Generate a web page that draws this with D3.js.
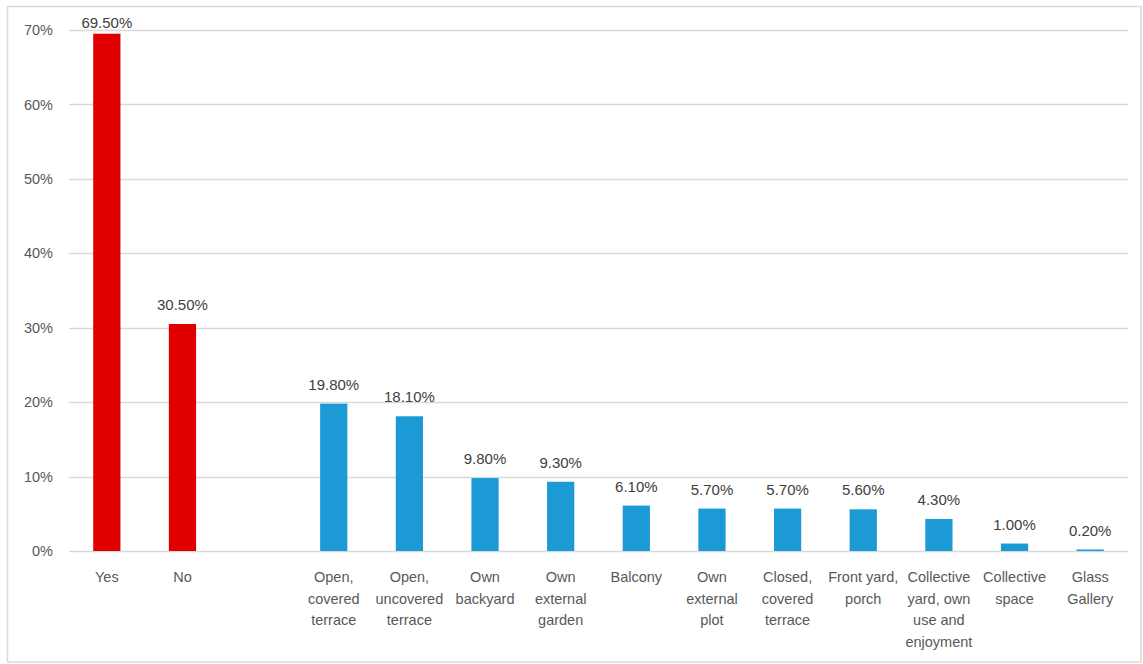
<!DOCTYPE html>
<html>
<head>
<meta charset="utf-8">
<script src="https://cdn.jsdelivr.net/npm/d3@7"></script>
<style>
  html, body { margin: 0; padding: 0; background: #fff; }
  svg { display: block; }
  text { font-family: "Liberation Sans", Arial, sans-serif; }
</style>
</head>
<body>
<svg id="chart" width="1143" height="664"></svg>
<script>
// ---- data ----
const categories = [
  "Yes", "No", "",
  "Open,\ncovered\nterrace",
  "Open,\nuncovered\nterrace",
  "Own\nbackyard",
  "Own\nexternal\ngarden",
  "Balcony",
  "Own\nexternal\nplot",
  "Closed,\ncovered\nterrace",
  "Front yard,\nporch",
  "Collective\nyard, own\nuse and\nenjoyment",
  "Collective\nspace",
  "Glass\nGallery"
];
const values = [69.5, 30.5, null, 19.8, 18.1, 9.8, 9.3, 6.1, 5.7, 5.7, 5.6, 4.3, 1.0, 0.2];
const groups = ["answer", "answer", null, "type", "type", "type", "type", "type", "type", "type", "type", "type", "type", "type"];
const yTicks = [0, 10, 20, 30, 40, 50, 60, 70];

// ---- layout ----
const svg = d3.select("#chart");
const plot = { left: 69, right: 1128, top: 30, bottom: 551 };
const colors = { answer: "#E00000", type: "#1B9AD6" };

// frame
svg.append("rect")
  .attr("x", 7.5).attr("y", 6.5)
  .attr("width", 1141 - 7.5).attr("height", 662 - 6.5)
  .attr("fill", "#fff").attr("stroke", "#d9d9d9").attr("stroke-width", 1.5);

const idx = categories.map((d, i) => i);
const x = d3.scaleBand()
  .domain(idx)
  .range([plot.left, plot.right])
  .paddingInner(0.64)
  .paddingOuter(0.32);

const y = d3.scaleLinear().domain([0, 70]).range([plot.bottom, plot.top]);

// gridlines
svg.append("g")
  .selectAll("line")
  .data(yTicks)
  .join("line")
  .attr("x1", plot.left).attr("x2", plot.right)
  .attr("y1", d => Math.round(y(d)) + 0.5).attr("y2", d => Math.round(y(d)) + 0.5)
  .attr("stroke", "#d9d9d9").attr("stroke-width", 1.5);

// y axis labels
const yAxis = d3.axisLeft(y).tickValues(yTicks).tickFormat(d => d + "%").tickSize(0).tickPadding(0);
const yg = svg.append("g").attr("transform", `translate(${plot.left - 16},0)`).call(yAxis);
yg.select(".domain").remove();
yg.selectAll("text")
  .attr("font-size", 14.5)
  .attr("fill", "#595959")
  .attr("font-family", "Liberation Sans, Arial, sans-serif");

// bars
const data = idx.map(i => ({ i, v: values[i], g: groups[i], c: categories[i] }));
const barsData = data.filter(d => d.v !== null);

svg.append("g")
  .selectAll("rect")
  .data(barsData)
  .join("rect")
  .attr("x", d => x(d.i))
  .attr("width", x.bandwidth())
  .attr("y", d => y(d.v))
  .attr("height", d => y(0) - y(d.v))
  .attr("fill", d => colors[d.g]);

// value labels
svg.append("g")
  .selectAll("text")
  .data(barsData)
  .join("text")
  .attr("x", d => x(d.i) + x.bandwidth() / 2)
  .attr("y", d => Math.max(y(d.v) - 14, 28))
  .attr("text-anchor", "middle")
  .attr("font-size", 15)
  .attr("fill", "#404040")
  .text(d => d.v.toFixed(2) + "%");

// x axis category labels
const xg = svg.append("g");
data.filter(d => d.c !== "").forEach(d => {
  const lines = d.c.split("\n");
  const t = xg.append("text")
    .attr("x", x(d.i) + x.bandwidth() / 2)
    .attr("y", 582)
    .attr("text-anchor", "middle")
    .attr("font-size", 14.5)
    .attr("fill", "#595959");
  lines.forEach((ln, k) => {
    t.append("tspan")
      .attr("x", x(d.i) + x.bandwidth() / 2)
      .attr("dy", k === 0 ? 0 : 21.5)
      .text(ln);
  });
});
</script>
</body>
</html>
